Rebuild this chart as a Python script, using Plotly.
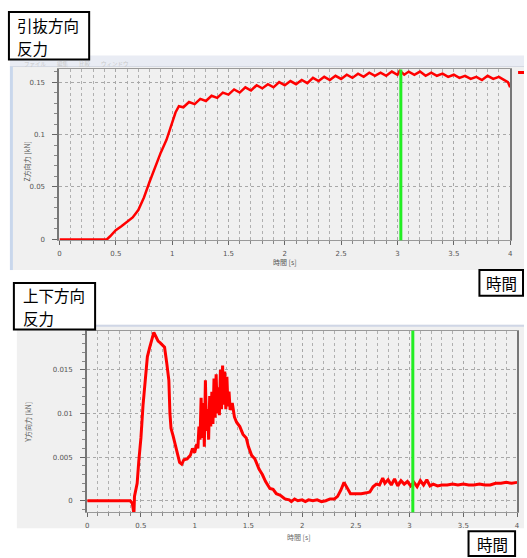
import plotly.graph_objects as go

W, H = 527, 558

# ---------------- data ----------------
t_top = [0, 0.42, 0.45, 0.5, 0.55, 0.6, 0.65, 0.7, 0.75, 0.8, 0.85, 0.9, 0.95,
         1.0, 1.03, 1.06, 1.1, 1.15, 1.2, 1.25, 1.3, 1.35, 1.4, 1.45, 1.5, 1.55,
         1.6, 1.65, 1.7, 1.75, 1.8, 1.85, 1.9, 1.95, 2.0, 2.05, 2.1, 2.15, 2.2,
         2.25, 2.3, 2.35, 2.4, 2.45, 2.5, 2.55, 2.6, 2.65, 2.7, 2.75, 2.8, 2.85,
         2.9, 2.95, 3.0, 3.02, 3.06, 3.1, 3.15, 3.2, 3.25, 3.3, 3.35, 3.4, 3.45,
         3.5, 3.55, 3.6, 3.65, 3.7, 3.75, 3.8, 3.85, 3.9, 3.95, 3.98, 4.0]
z_force = [0, 0, 0.003, 0.0088, 0.0125, 0.0165, 0.021, 0.028, 0.040, 0.055, 0.069,
           0.083, 0.095, 0.110, 0.121, 0.127, 0.126, 0.131, 0.129, 0.134, 0.132,
           0.137, 0.135, 0.140, 0.138, 0.143, 0.140, 0.145, 0.142, 0.147, 0.144,
           0.148, 0.145, 0.150, 0.147, 0.151, 0.148, 0.152, 0.149, 0.154, 0.151,
           0.155, 0.152, 0.156, 0.153, 0.157, 0.154, 0.158, 0.155, 0.159, 0.156,
           0.159, 0.156, 0.160, 0.157, 0.161, 0.157, 0.160, 0.157, 0.160, 0.156,
           0.159, 0.156, 0.158, 0.155, 0.157, 0.154, 0.156, 0.153, 0.155, 0.152,
           0.156, 0.153, 0.155, 0.152, 0.150, 0.145]

t_bot = [0, 0.40, 0.42, 0.435, 0.44, 0.45, 0.465, 0.48, 0.50, 0.52, 0.54, 0.56,
         0.58, 0.60, 0.62, 0.64, 0.66, 0.68, 0.70, 0.72, 0.74, 0.76, 0.77, 0.78,
         0.80, 0.82, 0.84, 0.86, 0.88, 0.90, 0.93, 0.96, 0.98, 1.00, 1.02, 1.03,
         1.04, 1.05, 1.06, 1.07, 1.08, 1.09, 1.10, 1.11, 1.12, 1.13, 1.14, 1.15,
         1.16, 1.17, 1.18, 1.19, 1.20, 1.21, 1.22, 1.23, 1.24, 1.25, 1.26, 1.27,
         1.28, 1.29, 1.30, 1.31, 1.32, 1.33, 1.35, 1.37, 1.39, 1.42, 1.45, 1.48,
         1.50, 1.53, 1.56, 1.58, 1.60, 1.63, 1.66, 1.70, 1.73, 1.76, 1.80, 1.84,
         1.88, 1.90, 1.93, 1.96, 2.00, 2.03, 2.06, 2.10, 2.14, 2.18, 2.22, 2.26,
         2.30, 2.33, 2.36, 2.39, 2.42, 2.45, 2.50, 2.55, 2.60, 2.63, 2.66, 2.69,
         2.72, 2.75, 2.77, 2.80, 2.83, 2.86, 2.89, 2.92, 2.95, 2.98, 3.01, 3.04,
         3.07, 3.10, 3.13, 3.16, 3.19, 3.22, 3.26, 3.30, 3.35, 3.40, 3.45, 3.50,
         3.55, 3.60, 3.65, 3.70, 3.75, 3.80, 3.85, 3.90, 3.95, 4.00]
y_force = [0, 0, -0.0003, -0.0015, 0.0005, 0.0010, 0.0020, 0.0045, 0.0072, 0.0110,
           0.0140, 0.0165, 0.0175, 0.0185, 0.0193, 0.0188, 0.0183, 0.0181, 0.0179,
           0.0176, 0.0158, 0.0138, 0.0100, 0.0083, 0.0074, 0.0064, 0.0054, 0.0044,
           0.0042, 0.0047, 0.0048, 0.0052, 0.0060, 0.0055, 0.0065, 0.0060, 0.0085,
           0.0070, 0.0118, 0.0072, 0.0112, 0.0062, 0.0138, 0.0080, 0.0105, 0.0070,
           0.0120, 0.0085, 0.0125, 0.0088, 0.0140, 0.0095, 0.0145, 0.0100, 0.0130,
           0.0098, 0.0150, 0.0105, 0.0155, 0.0110, 0.0148, 0.0105, 0.0142, 0.0108,
           0.0125, 0.0104, 0.0112, 0.0096, 0.0090, 0.0085, 0.0076, 0.0072, 0.0062,
           0.0052, 0.0048, 0.0042, 0.0036, 0.0030, 0.0022, 0.0014, 0.0013, 0.0008,
           0.0006, 0.0002, 0.0001, -0.0001, 0.0002, 0.0000, 0.0001, -0.0001, 0.0001,
           0.0000, 0.0001, -0.0001, 0.0000, 0.0002, 0.0002, 0.0005, 0.0012, 0.0021,
           0.0015, 0.0008, 0.0008, 0.0008, 0.0009, 0.0010, 0.0016, 0.0019, 0.0018,
           0.0026, 0.0020, 0.0024, 0.0018, 0.0025, 0.0017, 0.0023, 0.0019, 0.0022,
           0.0017, 0.0021, 0.0016, 0.0023, 0.0018, 0.0024, 0.0017, 0.0019, 0.0017,
           0.0018, 0.0018, 0.0019, 0.0018, 0.0019, 0.0018, 0.0018, 0.0019, 0.0018,
           0.0018, 0.0020, 0.0020, 0.0021, 0.0020, 0.0021]

marker_time = 3.03

x_ticks = [0, 0.5, 1, 1.5, 2, 2.5, 3, 3.5, 4]
x_tick_labels = ["0", "0.5", "1", "1.5", "2", "2.5", "3", "3.5", "4"]
top_y_ticks = [0, 0.05, 0.1, 0.15]
top_y_labels = ["0", "0.05", "0.1", "0.15"]
bot_y_ticks = [0, 0.005, 0.01, 0.015]
bot_y_labels = ["0", "0.005", "0.01", "0.015"]

# ---------------- helpers ----------------
def px(x):
    return x / W

def py(y):
    return 1 - y / H

JP = "Noto Sans CJK JP"
TICKFONT = dict(family="DejaVu Sans", size=7, color="#555555")

fig = go.Figure()
fig.add_trace(go.Scatter(x=t_top, y=z_force, mode="lines", xaxis="x", yaxis="y",
                         line=dict(color="#ff0000", width=2.5), showlegend=False))
fig.add_trace(go.Scatter(x=t_bot, y=y_force, mode="lines", xaxis="x2", yaxis="y2",
                         line=dict(color="#ff0000", width=3), showlegend=False))


def xaxis_cfg(domain, anchor):
    return dict(domain=domain, anchor=anchor, range=[0, 4], tickmode="array",
                tickvals=x_ticks, ticktext=x_tick_labels, ticks="outside", ticklen=4,
                tickcolor="#666", tickfont=TICKFONT, showgrid=True, gridcolor="#a8a8a8",
                griddash="dot", gridwidth=1, zeroline=False, showline=True,
                linecolor="#999", linewidth=1, mirror=True, ticklabelstandoff=2,
                minor=dict(dtick=0.1, tick0=0, showgrid=True, gridcolor="#b0b0b0",
                           griddash="dot", gridwidth=1, ticks="outside", ticklen=3,
                           tickcolor="#888"))


def yaxis_cfg(domain, anchor, rng, vals, labels, minor_dt):
    return dict(domain=domain, anchor=anchor, range=rng, tickmode="array",
                tickvals=vals, ticktext=labels, ticks="outside", ticklen=5,
                tickcolor="#666", tickfont=TICKFONT, showgrid=True, gridcolor="#a8a8a8",
                griddash="dot", gridwidth=1, zeroline=False, showline=True,
                linecolor="#777", linewidth=2, mirror=True, ticklabelstandoff=6,
                minor=dict(dtick=minor_dt, tick0=0, ticks="outside", ticklen=3,
                           tickcolor="#888", showgrid=False))


shapes = [
    # top panel
    dict(type="rect", xref="paper", yref="paper", x0=px(8), x1=px(527), y0=py(272), y1=py(58),
         fillcolor="#f0f0f0", line=dict(width=0), layer="below"),
    dict(type="rect", xref="paper", yref="paper", x0=px(8), x1=px(527), y0=py(67), y1=py(56),
         fillcolor="#e9ecf4", line=dict(width=0), layer="below"),
    dict(type="line", xref="paper", yref="paper", x0=px(8), x1=px(527), y0=py(67), y1=py(67),
         line=dict(color="#d5d9e3", width=1), layer="below"),
    dict(type="rect", xref="paper", yref="paper", x0=px(8), x1=px(11), y0=py(272), y1=py(67),
         fillcolor="#c9d7ec", line=dict(width=0), layer="below"),
    # bottom panel
    dict(type="rect", xref="paper", yref="paper", x0=px(15), x1=px(527), y0=py(532), y1=py(327),
         fillcolor="#f0f0f0", line=dict(width=0), layer="below"),
    dict(type="line", xref="paper", yref="paper", x0=px(15), x1=px(527), y0=py(328), y1=py(328),
         line=dict(color="#cfd6e6", width=2), layer="below"),
    # green marker lines
    dict(type="line", xref="x", yref="y domain", x0=marker_time, x1=marker_time, y0=0, y1=1,
         line=dict(color="#22ee22", width=3), layer="above"),
    dict(type="line", xref="x2", yref="y2 domain", x0=marker_time, x1=marker_time, y0=0, y1=1,
         line=dict(color="#22ee22", width=3), layer="above"),
    # red legend dash
    dict(type="line", xref="paper", yref="paper", x0=px(521), x1=px(527), y0=py(73), y1=py(73),
         line=dict(color="#ff0000", width=3), layer="above"),
    # boxes
    dict(type="rect", xref="paper", yref="paper", x0=px(7), x1=px(88), y0=py(60), y1=py(12),
         fillcolor="white", line=dict(color="black", width=2), layer="above"),
    dict(type="rect", xref="paper", yref="paper", x0=px(482), x1=px(526), y0=py(298), y1=py(272),
         fillcolor="white", line=dict(color="black", width=2), layer="above"),
    dict(type="rect", xref="paper", yref="paper", x0=px(12), x1=px(94), y0=py(332), y1=py(285),
         fillcolor="white", line=dict(color="black", width=2), layer="above"),
    dict(type="rect", xref="paper", yref="paper", x0=px(471), x1=px(518), y0=py(560), y1=py(535),
         fillcolor="white", line=dict(color="black", width=2), layer="above"),
]

BOXFONT = dict(family=JP, size=15.5, color="black")


def label(text, x, y, anchor="left"):
    return dict(text=text, xref="paper", yref="paper", x=px(x), y=py(y),
                xanchor=anchor, yanchor="middle", showarrow=False, font=BOXFONT)


annotations = [
    label("引抜方向", 13, 25),
    label("反力", 13, 48),
    label("時間", 504, 285, "center"),
    label("上下方向", 19, 297),
    label("反力", 19, 320),
    label("時間", 495, 548, "center"),
    # axis titles
    dict(text="Z方向力 [kN]", xref="paper", yref="paper", x=px(25), y=py(163),
         xanchor="center", yanchor="middle", textangle=-90, showarrow=False,
         font=dict(family=JP, size=7, color="#555")),
    dict(text="Y方向力 [kN]", xref="paper", yref="paper", x=px(26), y=py(425),
         xanchor="center", yanchor="middle", textangle=-90, showarrow=False,
         font=dict(family=JP, size=7, color="#555")),
    dict(text="時間 [s]", xref="paper", yref="paper", x=px(286), y=py(264),
         xanchor="center", yanchor="middle", showarrow=False,
         font=dict(family=JP, size=7, color="#555")),
    dict(text="時間 [s]", xref="paper", yref="paper", x=px(300), y=py(541),
         xanchor="center", yanchor="middle", showarrow=False,
         font=dict(family=JP, size=7, color="#666")),
    # faint menu text
    dict(text="ファイル　　編集　　比較　　ウィンドウ", xref="paper", yref="paper", x=px(20), y=py(64),
         xanchor="left", yanchor="middle", showarrow=False,
         font=dict(family=JP, size=5.5, color="#c8c8c8")),
]

fig.update_layout(
    width=W, height=H, margin=dict(l=0, r=0, t=0, b=0),
    paper_bgcolor="white", plot_bgcolor="white", showlegend=False,
    xaxis=xaxis_cfg([px(58), px(513)], "y"),
    yaxis=yaxis_cfg([py(242), py(70)], "x", [-0.0008, 0.162], top_y_ticks, top_y_labels, 0.01),
    xaxis2=xaxis_cfg([px(86), px(520)], "y2"),
    yaxis2=yaxis_cfg([py(516), py(333)], "x2", [-0.00133, 0.0195], bot_y_ticks, bot_y_labels, 0.001),
    shapes=shapes, annotations=annotations,
)

fig.write_html("out.html")
